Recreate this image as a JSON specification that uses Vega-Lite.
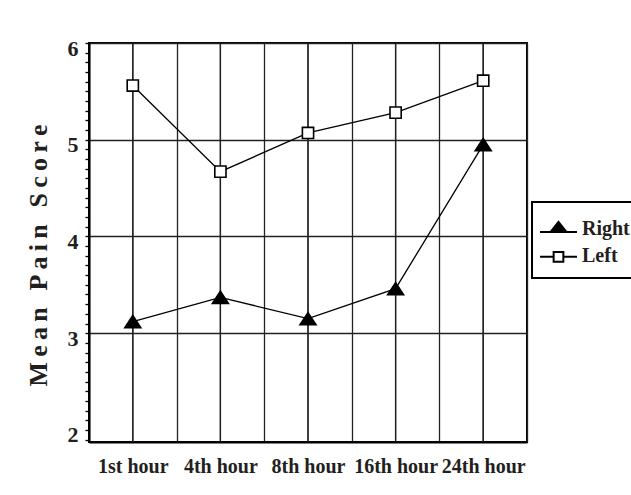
{
  "$schema": "https://vega.github.io/schema/vega-lite/v6.json",
  "width": 438,
  "height": 399,
  "autosize": {"type": "none"},
  "padding": {"left": 89, "top": 43, "right": 104, "bottom": 53},
  "background": "white",
  "config": {
    "view": {"stroke": "black", "strokeWidth": 2},
    "font": "Liberation Serif"
  },
  "data": {
    "values": [
      {"hour": "1st hour", "series": "Right", "score": 3.12},
      {"hour": "4th hour", "series": "Right", "score": 3.37},
      {"hour": "8th hour", "series": "Right", "score": 3.15},
      {"hour": "16th hour", "series": "Right", "score": 3.46},
      {"hour": "24th hour", "series": "Right", "score": 4.95},
      {"hour": "1st hour", "series": "Left", "score": 5.56},
      {"hour": "4th hour", "series": "Left", "score": 4.67},
      {"hour": "8th hour", "series": "Left", "score": 5.07},
      {"hour": "16th hour", "series": "Left", "score": 5.28},
      {"hour": "24th hour", "series": "Left", "score": 5.61}
    ]
  },
  "resolve": {"scale": {"shape": "independent", "fill": "independent"}},
  "layer": [
    {
      "mark": {"type": "rule", "color": "#222", "strokeWidth": 1.3},
      "encoding": {
        "x": {
          "field": "hour", "type": "ordinal",
          "sort": ["1st hour", "4th hour", "8th hour", "16th hour", "24th hour"],
          "scale": {"type": "band", "paddingInner": 0, "paddingOuter": 0},
          "axis": {
            "title": null, "tickBand": "extent", "grid": true, "gridColor": "#222", "gridWidth": 1.3,
            "ticks": false, "domain": true, "domainColor": "black", "domainWidth": 2,
            "labelAngle": 0, "labelPadding": 14, "labelOverlap": false,
            "labelFont": "Liberation Serif", "labelFontSize": 20, "labelFontWeight": "bold", "labelColor": "#231f20"
          }
        }
      }
    },
    {
      "mark": {"type": "line", "color": "black", "strokeWidth": 1.3},
      "encoding": {
        "x": {"field": "hour", "type": "ordinal", "sort": ["1st hour", "4th hour", "8th hour", "16th hour", "24th hour"]},
        "y": {
          "field": "score", "type": "quantitative",
          "scale": {"domain": [1.875, 6], "nice": false, "zero": false},
          "axis": {
            "title": "M\u2009e\u2009a\u2009n\u2009 \u2009P\u2009a\u2009i\u2009n\u2009 \u2009S\u2009c\u2009o\u2009r\u2009e",
            "titleFont": "Liberation Serif", "titleFontSize": 26, "titleFontWeight": "bold", "titleColor": "#231f20",
            "titlePadding": 16, "titleY": 212,
            "tickCount": 100,
            "values": [1.9,2,2.1,2.2,2.3,2.4,2.5,2.6,2.7,2.8,2.9,3,3.1,3.2,3.3,3.4,3.5,3.6,3.7,3.8,3.9,4,4.1,4.2,4.3,4.4,4.5,4.6,4.7,4.8,4.9,5,5.1,5.2,5.3,5.4,5.5,5.6,5.7,5.8,5.9,6],
            "labelExpr": "abs(datum.value - round(datum.value)) < 0.01 ? format(datum.value, 'd') : ''",
            "labelFont": "Liberation Serif", "labelFontSize": 22, "labelFontWeight": "bold", "labelColor": "#231f20",
            "labelPadding": 7, "labelOffset": 5, "labelOverlap": false,
            "tickSize": 4, "tickColor": "black", "tickWidth": 1.3,
            "domain": true, "domainColor": "black", "domainWidth": 2,
            "grid": true, "gridColor": "#222", "gridWidth": 1.3,
            "gridOpacity": {"condition": {"test": "abs(datum.value - round(datum.value)) < 0.01 && datum.value > 2.5", "value": 1}, "value": 0}
          }
        },
        "detail": {"field": "series", "type": "nominal"}
      }
    },
    {
      "mark": {"type": "point", "filled": true, "opacity": 1, "stroke": "black", "strokeWidth": 1.6, "size": 256},
      "encoding": {
        "x": {"field": "hour", "type": "ordinal", "sort": ["1st hour", "4th hour", "8th hour", "16th hour", "24th hour"]},
        "y": {"field": "score", "type": "quantitative"},
        "shape": {"field": "series", "type": "nominal", "scale": {"domain": ["Right", "Left"], "range": ["M0,-0.76L1,0.76H-1Z", "M-0.7,-0.7H0.7V0.7H-0.7Z"]}, "legend": null},
        "fill": {"field": "series", "type": "nominal", "scale": {"domain": ["Right", "Left"], "range": ["black", "white"]}, "legend": null}
      }
    },
    {
      "mark": {"type": "point", "filled": true, "opacity": 0, "stroke": "black", "strokeWidth": 2},
      "encoding": {
        "x": {"field": "hour", "type": "ordinal", "sort": ["1st hour", "4th hour", "8th hour", "16th hour", "24th hour"]},
        "y": {"field": "score", "type": "quantitative"},
        "shape": {
          "field": "series", "type": "nominal",
          "scale": {"domain": ["Right", "Left"], "range": ["M-1.37,0.25H1.37M0,-0.5L0.59,0.25H-0.59Z", "M-1.37,0.1H-0.36M0.36,0.1H1.37M-0.36,-0.26H0.36V0.46H-0.36Z"]},
          "legend": {
            "orient": "none", "legendX": 443, "legendY": 159, "title": null,
            "padding": 12, "strokeColor": "black", "fillColor": "white",
            "symbolSize": 729, "symbolOpacity": 1, "symbolStrokeColor": "black", "symbolStrokeWidth": 2,
            "labelFont": "Liberation Serif", "labelFontSize": 20, "labelFontWeight": "bold", "labelColor": "#231f20",
            "labelOffset": 9, "rowPadding": 2,
            "encode": {"legend": {"update": {"strokeWidth": {"value": 2}}}}
          }
        },
        "fill": {
          "field": "series", "type": "nominal",
          "scale": {"domain": ["Right", "Left"], "range": ["black", "white"]},
          "legend": {
            "orient": "none", "legendX": 443, "legendY": 159, "title": null,
            "padding": 12, "strokeColor": "black", "fillColor": "white",
            "symbolSize": 729, "symbolOpacity": 1, "symbolStrokeColor": "black", "symbolStrokeWidth": 2,
            "labelFont": "Liberation Serif", "labelFontSize": 20, "labelFontWeight": "bold", "labelColor": "#231f20",
            "labelOffset": 9, "rowPadding": 2,
            "encode": {"legend": {"update": {"strokeWidth": {"value": 2}}}}
          }
        }
      }
    }
  ]
}
